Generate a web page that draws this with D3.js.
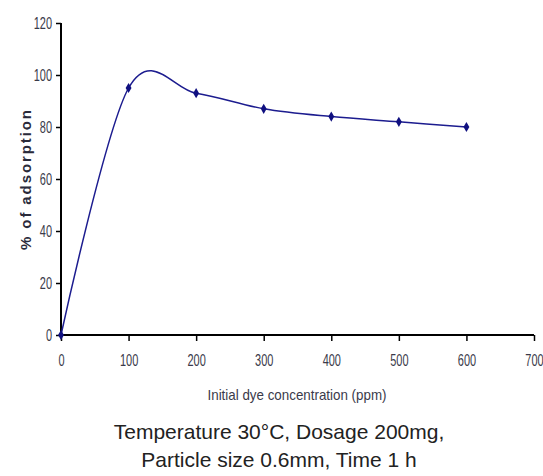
<!DOCTYPE html>
<html>
<head>
<meta charset="utf-8">
<script src="https://cdn.jsdelivr.net/npm/d3@7"></script>
<style>
  body { margin: 0; background: #ffffff; }
</style>
</head>
<body>
<div id="chart"></div>
<script>
// Data.
const concentration = [0, 100, 200, 300, 400, 500, 600];
const adsorption = [0, 95, 93, 87, 84, 82, 80];
const xTicks = [0, 100, 200, 300, 400, 500, 600, 700];
const yTicks = [0, 20, 40, 60, 80, 100, 120];
const captionLines = ["Temperature 30°C, Dosage 200mg,", "Particle size 0.6mm, Time 1 h"];

const width = 543, height = 476;
const margin = { left: 61, right: 9, top: 23, bottom: 141 };

const svg = d3.select("#chart")
  .append("svg")
  .attr("width", width)
  .attr("height", height);

// Scales.
const x = d3.scaleLinear()
  .domain([0, 700])
  .range([margin.left, width - margin.right]);
const y = d3.scaleLinear()
  .domain([0, 120])
  .range([height - margin.bottom, margin.top]);

// The reference uses a squeezed font, so the labels are compressed with textLength.
const tickFont = "'Liberation Sans', Arial, sans-serif";
const digitWidth = 6.1;

// X axis.
const xAxis = svg.append("g")
  .attr("transform", `translate(0,${y(0)})`)
  .call(d3.axisBottom(x).tickValues(xTicks).tickSize(6).tickPadding(13));
// Y axis.
const yAxis = svg.append("g")
  .attr("transform", `translate(${x(0)},0)`)
  .call(d3.axisLeft(y).tickValues(yTicks).tickSize(5).tickPadding(4));

[xAxis, yAxis].forEach(g => {
  g.select(".domain").attr("stroke", "#000").attr("stroke-width", 2);
  g.selectAll(".tick line").attr("stroke", "#000").attr("stroke-width", 1.5);
  g.selectAll(".tick text")
    .attr("fill", "#3a3a4a")
    .style("font-family", tickFont)
    .style("font-size", "16.5px")
    .attr("textLength", d => String(d).length * digitWidth)
    .attr("lengthAdjust", "spacingAndGlyphs");
});
xAxis.select(".domain").attr("d", `M${x(0)},0H${x(700)}`);
yAxis.select(".domain").attr("d", `M0,${y(120)}V${y(0)}`);

// Axis titles.
svg.append("text")
  .attr("x", 297)
  .attr("y", 400)
  .attr("text-anchor", "middle")
  .attr("fill", "#3a3a4a")
  .style("font-family", tickFont)
  .style("font-size", "15px")
  .attr("textLength", 179)
  .attr("lengthAdjust", "spacingAndGlyphs")
  .text("Initial dye concentration (ppm)");

svg.append("text")
  .attr("transform", `translate(31,180) rotate(-90)`)
  .attr("text-anchor", "middle")
  .attr("fill", "#2a2a3a")
  .style("font-family", tickFont)
  .style("font-size", "15px")
  .style("font-weight", "bold")
  .attr("textLength", 140)
  .attr("lengthAdjust", "spacing")
  .text("% of adsorption");

// Smoothed line through the points.
const points = concentration.map((c, i) => [c, adsorption[i]]);
const line = d3.line()
  .x(d => x(d[0]))
  .y(d => y(d[1]))
  .curve(d3.curveCardinal.tension(0));

svg.append("path")
  .datum(points)
  .attr("d", line)
  .attr("fill", "none")
  .attr("stroke", "#1c1c8f")
  .attr("stroke-width", 1.5);

// Markers.
svg.selectAll(".marker")
  .data(points)
  .enter()
  .append("path")
  .attr("class", "marker")
  .attr("transform", d => `translate(${x(d[0])},${y(d[1])})`)
  .attr("d", d3.symbol().type(d3.symbolDiamond).size(30))
  .attr("fill", "#101080");

// Caption under the chart.
svg.selectAll(".caption")
  .data(captionLines)
  .enter()
  .append("text")
  .attr("class", "caption")
  .attr("x", 279)
  .attr("y", (d, i) => 439 + i * 28)
  .attr("text-anchor", "middle")
  .attr("fill", "#222")
  .style("font-family", "'Liberation Sans', Arial, sans-serif")
  .style("font-size", "21px")
  .text(d => d);
</script>
</body>
</html>
